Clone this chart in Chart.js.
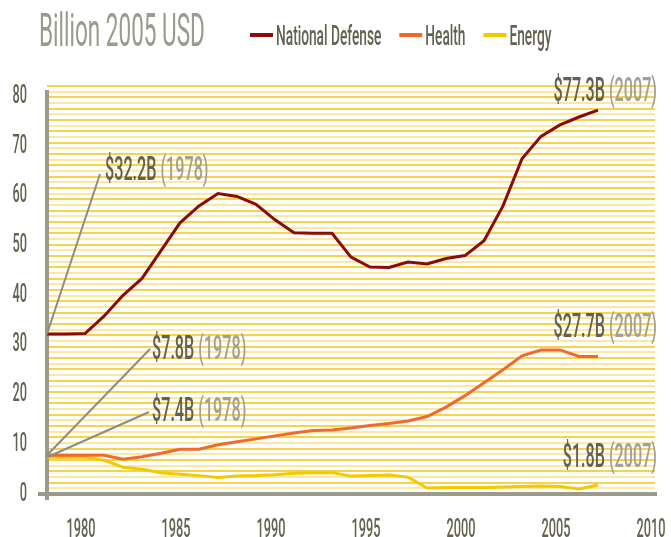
<!DOCTYPE html>
<html><head><meta charset="utf-8">
<script src="https://cdn.jsdelivr.net/npm/chart.js@4"></script>
<style>html,body{margin:0;padding:0;background:#fff}#wrap{width:671px;height:537px;position:relative}</style>
</head><body><div id="wrap"><canvas id="c" width="671" height="537"></canvas></div>
<script>
// ---- data ----
const years = [1978,1979,1980,1981,1982,1983,1984,1985,1986,1987,1988,1989,1990,1991,1992,1993,1994,1995,1996,1997,1998,1999,2000,2001,2002,2003,2004,2005,2006,2007];
const defense = [32.2,32.2,32.3,35.8,40.0,43.4,49.0,54.6,58.0,60.5,59.9,58.3,55.2,52.6,52.5,52.5,47.7,45.7,45.6,46.7,46.3,47.4,48.0,51.0,58.0,67.5,72.0,74.3,75.9,77.3];
const health = [7.8,7.8,7.8,7.8,7.0,7.5,8.2,9.0,9.0,9.9,10.5,11.1,11.7,12.3,12.8,12.9,13.3,13.8,14.2,14.7,15.6,17.5,19.8,22.4,25.0,27.8,29.0,29.0,27.7,27.7];
const energy = [7.4,7.4,7.4,6.8,5.4,5.0,4.3,4.0,3.7,3.3,3.6,3.7,3.9,4.2,4.3,4.3,3.6,3.7,3.8,3.4,1.2,1.3,1.3,1.3,1.4,1.5,1.6,1.5,1.0,1.8];
const seriesNames = ['National Defense','Health','Energy'];
const yTickValues = [0,10,20,30,40,50,60,70,80];
const xTickValues = [1980,1985,1990,1995,2000,2005,2010];
const titleText = 'Billion 2005 USD';
const startValueLabels = ['$32.2B','$7.8B','$7.4B'];
const endValueLabels = ['$77.3B','$27.7B','$1.8B'];
const startYearLabel = '(1978)';
const endYearLabel = '(2007)';

// ---- styles ----
const SX = 0.49; // horizontal compression for condensed look
const FONT = 'Roboto';
const colors = ['#8c0b06','#f26a2b','#f3c900'];
const axisGray = '#9c9a8b';
const textDark = '#636250';
const textLight = '#a3a195';
const titleGray = '#9b9a8c';

const canvas = document.getElementById('c');
const ctx0 = canvas.getContext('2d');
const origFill = ctx0.fillText.bind(ctx0);
ctx0.fillText = function(t, x, y) {
  this.save(); this.translate(x, y); this.scale(SX, 1); origFill(t, 0, 0); this.restore();
};

function drawParts(ctx, parts, x, y, align) {
  const gap = ctx.measureText(' ').width * SX;
  const widths = parts.map(p => ctx.measureText(p.text).width * SX);
  const total = widths.reduce((a,b)=>a+b,0) + gap*(parts.length-1);
  let cx = align === 'right' ? x - total : x;
  ctx.textAlign = 'left';
  parts.forEach((p,i) => { ctx.fillStyle = p.color; ctx.fillText(p.text, cx, y); cx += widths[i] + gap; });
}

const decor = {
  id: 'decor',
  beforeDatasetsDraw(chart) {
    const {ctx, chartArea: a} = chart;
    ctx.save();
    ctx.strokeStyle = axisGray; ctx.lineWidth = 4; ctx.lineCap = 'butt';
    ctx.beginPath(); ctx.moveTo(a.left, a.top + 4); ctx.lineTo(a.left, a.bottom + 6); ctx.stroke();
    ctx.beginPath(); ctx.moveTo(a.left - 9, a.bottom); ctx.lineTo(a.right + 2, a.bottom); ctx.stroke();
    ctx.restore();
  },
  afterDraw(chart) {
    const {ctx} = chart;
    const xs = chart.scales.x, ys = chart.scales.y;
    ctx.save();
    ctx.textBaseline = 'alphabetic';
    // title
    ctx.font = '46px ' + FONT; ctx.fillStyle = titleGray; ctx.textAlign = 'left';
    ctx.fillText(titleText, 39, 46);
    // legend
    ctx.font = '500 28px ' + FONT;
    let lx = 250;
    chart.data.datasets.forEach(ds => {
      ctx.fillStyle = ds.borderColor; ctx.fillRect(lx, 33, 23, 4);
      ctx.fillStyle = textDark; ctx.textAlign = 'left';
      ctx.fillText(ds.label, lx + 26, 45);
      lx += 26 + ctx.measureText(ds.label).width * SX + 18;
    });
    // leaders + start labels
    const series = [defense, health, energy];
    const leaderEnds = [[100,174],[150,349],[149,412]];
    const startText = [[105,180],[152,359],[152,421]];
    ctx.strokeStyle = '#8f8d80'; ctx.lineWidth = 2;
    series.forEach((s, i) => {
      const px = xs.getPixelForValue(years[0]), py = ys.getPixelForValue(s[0]);
      ctx.beginPath(); ctx.moveTo(px, py); ctx.lineTo(leaderEnds[i][0], leaderEnds[i][1]); ctx.stroke();
    });
    ctx.font = '500 33px ' + FONT;
    series.forEach((s, i) => {
      drawParts(ctx, [{text:startValueLabels[i], color:textDark},{text:startYearLabel, color:textLight}], startText[i][0], startText[i][1], 'left');
    });
    const endBase = [101, 337, 467];
    series.forEach((s, i) => {
      drawParts(ctx, [{text:endValueLabels[i], color:textDark},{text:endYearLabel, color:textLight}], 657, endBase[i], 'right');
    });
    ctx.restore();
  }
};

const mk = (arr) => years.map((y,i) => ({x:y, y:arr[i]}));
new Chart(canvas, {
  type: 'line',
  data: {
    datasets: [defense, health, energy].map((arr, i) => ({
      label: seriesNames[i], data: mk(arr), borderColor: colors[i], backgroundColor: colors[i],
      borderWidth: 3, pointRadius: 0, tension: 0, fill: false
    }))
  },
  options: {
    responsive: false, animation: false, devicePixelRatio: 1,
    layout: {padding: {top: 86, right: 16, left: 0, bottom: 0}},
    plugins: {legend: {display: false}, title: {display: false}, tooltip: {enabled: false}},
    scales: {
      x: {
        type: 'linear', min: 1978, max: 2010,
        grid: {display: false, drawTicks: false}, border: {display: false},
        afterBuildTicks: s => { s.ticks = xTickValues.map(v => ({value: v})); },
        afterFit: s => { s.height = 43; s.paddingLeft = 0; s.paddingRight = 0; },
        ticks: {autoSkip: false, maxRotation: 0, padding: 21, labelOffset: -4, color: textDark, font: {family: FONT, size: 26, weight: '500'}, callback: v => String(v)}
      },
      y: {
        min: 0, max: 82.14, position: 'left',
        grid: {display: false, drawTicks: false}, border: {display: false},
        afterBuildTicks: s => { s.ticks = yTickValues.map(v => ({value: v})); },
        afterFit: s => { s.width = 47; },
        ticks: {padding: 20, color: textDark, font: {family: FONT, size: 26, weight: '500'}}
      },
      stripes: {
        type: 'linear', position: 'right', min: 0, max: 72,
        grid: {drawTicks: false, lineWidth: 2, color: c => (c.tick && c.tick.value % 2 === 0) ? '#f4d44a' : '#f9e9a3'},
        border: {display: false},
        afterBuildTicks: s => { const t = []; for (let i = 0; i <= 72; i++) t.push({value: i}); s.ticks = t; },
        afterFit: s => { s.width = 0; },
        ticks: {display: false}
      }
    }
  },
  plugins: [decor]
});
</script></body></html>
